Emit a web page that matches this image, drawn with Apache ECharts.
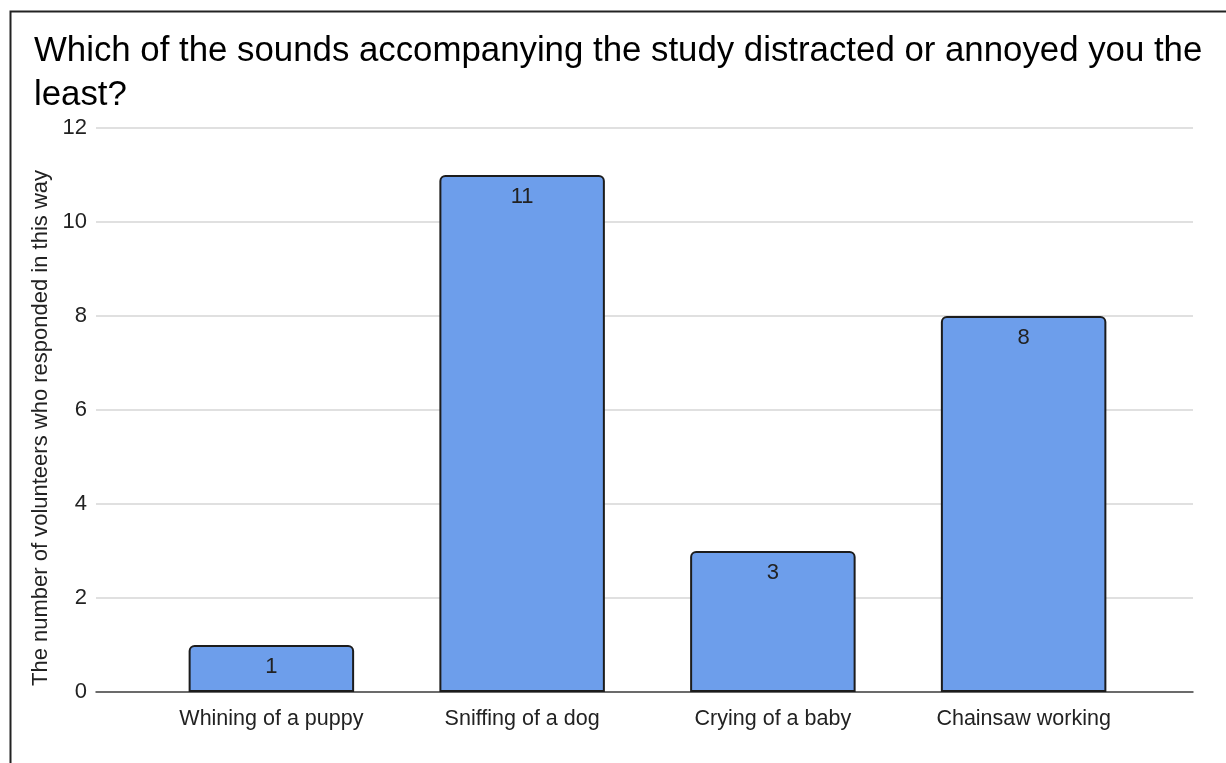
<!DOCTYPE html>
<html>
<head>
<meta charset="utf-8">
<script src="https://cdn.jsdelivr.net/npm/echarts@6/dist/echarts.min.js"></script>
<style>
  html, body { margin: 0; padding: 0; background: #fff; }
  #chart { width: 1226px; height: 763px; }
</style>
</head>
<body>
<div id="chart"></div>
<script>
const titleLines = [
  'Which of the sounds accompanying the study distracted or annoyed you the',
  'least?'
]
const categories = ['Whining of a puppy', 'Sniffing of a dog', 'Crying of a baby', 'Chainsaw working']
const responses = [1, 11, 3, 8]
const yTicks = [0, 2, 4, 6, 8, 10, 12]
const yAxisName = 'The number of volunteers who responded in this way'

const font = 'Liberation Sans, Arial, sans-serif'
const chart = echarts.init(document.getElementById('chart'))

const option = {
  backgroundColor: '#fff',
  animation: false,
  title: {
    text: titleLines.join('\n'),
    left: 29,
    top: 24,
    textStyle: {
      fontFamily: font,
      fontSize: 34.8,
      fontWeight: 'normal',
      color: '#000',
      lineHeight: 44,
    },
  },
  graphic: [
    {
      // outer frame (only left and top edges visible in the original)
      type: 'polyline',
      shape: { points: [[10.5, 770], [10.5, 11.5], [1240, 11.5]] },
      style: { stroke: '#222', lineWidth: 2, fill: null },
    },
  ],
  grid: [
    // background grid: gridlines + axis line
    { left: 96, right: 33, top: 128, bottom: 71 },
    // bars live in a narrower band
    { left: 146, right: 77, top: 128, bottom: 71 },
  ],
  xAxis: [
    {
      gridIndex: 0,
      type: 'category',
      data: categories,
      axisLine: { show: true, lineStyle: { color: '#444', width: 1.5 } },
      axisTick: { show: false },
      axisLabel: { show: false },
    },
    {
      gridIndex: 1,
      type: 'category',
      data: categories,
      axisLine: { show: false },
      axisTick: { show: false },
      axisLabel: {
        fontFamily: font,
        fontSize: 21.5,
        color: '#222',
        margin: 16,
      },
    },
  ],
  yAxis: [
    {
      gridIndex: 0,
      type: 'value',
      min: yTicks[0],
      max: yTicks[yTicks.length - 1],
      interval: 2,
      name: yAxisName,
      nameLocation: 'middle',
      nameGap: 41,
      nameTextStyle: { fontFamily: font, fontSize: 22, color: '#222', padding: [0, 36, 0, 0] },
      axisLine: { show: false },
      axisTick: { show: false },
      axisLabel: { fontFamily: font, fontSize: 22, color: '#222', margin: 9 },
      splitLine: { lineStyle: { color: '#d6d6d6', width: 1.5 } },
    },
    {
      gridIndex: 1,
      type: 'value',
      min: yTicks[0],
      max: yTicks[yTicks.length - 1],
      interval: 2,
      show: false,
      splitLine: { show: false },
    },
  ],
  series: [
    {
      type: 'bar',
      xAxisIndex: 1,
      yAxisIndex: 1,
      data: responses,
      barWidth: '66%',
      itemStyle: {
        color: '#6d9eeb',
        borderColor: '#1c1c1c',
        borderWidth: 2,
        borderRadius: [5, 5, 0, 0],
      },
      label: {
        show: true,
        position: 'insideTop',
        distance: 11,
        fontFamily: font,
        fontSize: 22,
        color: '#222',
      },
    },
  ],
}

chart.setOption(option)
</script>
</body>
</html>
